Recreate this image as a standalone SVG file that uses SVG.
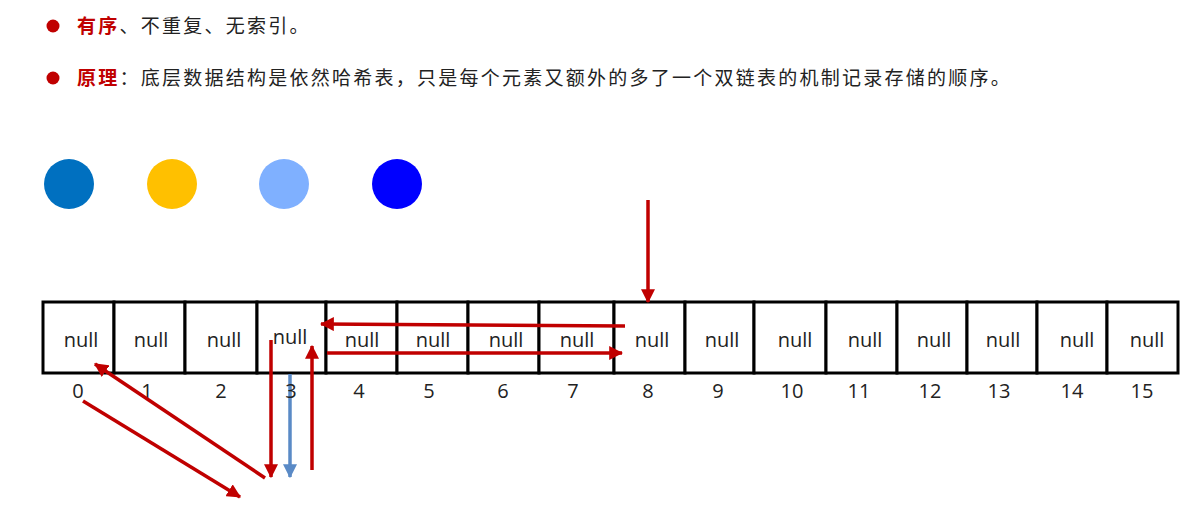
<svg xmlns="http://www.w3.org/2000/svg" width="1187" height="515" viewBox="0 0 1187 515">
<style>
.cn{font-family:"Noto Sans CJK SC","Noto Sans",sans-serif;font-size:19px;letter-spacing:2.25px;fill:#222}
.red{fill:#C00000;font-weight:bold}
.cell{fill:#fff;stroke:#000;stroke-width:3}
.nul{font-family:"Open Sans","Noto Sans",sans-serif;font-size:20px;fill:#222;text-anchor:middle}
.idx{font-family:"Open Sans","Noto Sans",sans-serif;font-size:20px;fill:#222;text-anchor:middle}
.ar{fill:none;stroke:#C00000;stroke-width:3.5}
.ab{fill:none;stroke:#5A8AC6;stroke-width:3.5}
</style>
<defs>
<marker id="mr" markerUnits="userSpaceOnUse" markerWidth="14" markerHeight="14" viewBox="0 0 12 12" refX="11" refY="6" orient="auto">
<path d="M0,0 L12,6 L0,12 Z" fill="#C00000"/>
</marker>
<marker id="mb" markerUnits="userSpaceOnUse" markerWidth="14" markerHeight="14" viewBox="0 0 12 12" refX="11" refY="6" orient="auto">
<path d="M0,0 L12,6 L0,12 Z" fill="#5A8AC6"/>
</marker>
</defs>
<rect width="1187" height="515" fill="#fff"/>
<g id="header">
<circle cx="53" cy="26" r="6.5" fill="#C00000"/>
<text class="cn" x="77" y="33"><tspan class="red">有序</tspan>、不重复、无索引。</text>
<circle cx="53" cy="78" r="6.5" fill="#C00000"/>
<text class="cn" x="77" y="85"><tspan class="red">原理</tspan>：底层数据结构是依然哈希表，只是每个元素又额外的多了一个双链表的机制记录存储的顺序。</text>
</g>
<g id="circles">
<circle cx="69" cy="184" r="25" fill="#0070C0"/>
<circle cx="172" cy="184" r="25" fill="#FFC000"/>
<circle cx="284" cy="184" r="25" fill="#7FB0FF"/>
<circle cx="397" cy="184" r="25" fill="#0000FF"/>
</g>
<g id="array">
<g id="cell0"><rect class="cell" x="43" y="302" width="71" height="71"/><text class="nul" x="81" y="347">null</text><text class="idx" x="78" y="398">0</text></g>
<g id="cell1"><rect class="cell" x="114" y="302" width="71" height="71"/><text class="nul" x="151" y="347">null</text><text class="idx" x="147" y="398">1</text></g>
<g id="cell2"><rect class="cell" x="185" y="302" width="72" height="71"/><text class="nul" x="224" y="347">null</text><text class="idx" x="221" y="398">2</text></g>
<g id="cell3"><rect class="cell" x="257" y="302" width="69" height="71"/><text class="nul" x="290" y="344">null</text></g>
<g id="cell4"><rect class="cell" x="326" y="302" width="71" height="71"/><text class="nul" x="362" y="347">null</text><text class="idx" x="359" y="398">4</text></g>
<g id="cell5"><rect class="cell" x="397" y="302" width="71" height="71"/><text class="nul" x="433" y="347">null</text><text class="idx" x="429" y="398">5</text></g>
<g id="cell6"><rect class="cell" x="468" y="302" width="71" height="71"/><text class="nul" x="506" y="347">null</text><text class="idx" x="503" y="398">6</text></g>
<g id="cell7"><rect class="cell" x="539" y="302" width="75" height="71"/><text class="nul" x="577" y="347">null</text><text class="idx" x="573" y="398">7</text></g>
<g id="cell8"><rect class="cell" x="614" y="302" width="71" height="71"/><text class="nul" x="652" y="347">null</text><text class="idx" x="648" y="398">8</text></g>
<g id="cell9"><rect class="cell" x="685" y="302" width="69" height="71"/><text class="nul" x="722" y="347">null</text><text class="idx" x="718" y="398">9</text></g>
<g id="cell10"><rect class="cell" x="754" y="302" width="72" height="71"/><text class="nul" x="795" y="347">null</text><text class="idx" x="792" y="398">10</text></g>
<g id="cell11"><rect class="cell" x="826" y="302" width="71" height="71"/><text class="nul" x="865" y="347">null</text><text class="idx" x="859" y="398">11</text></g>
<g id="cell12"><rect class="cell" x="897" y="302" width="70" height="71"/><text class="nul" x="934" y="347">null</text><text class="idx" x="930" y="398">12</text></g>
<g id="cell13"><rect class="cell" x="967" y="302" width="70" height="71"/><text class="nul" x="1003" y="347">null</text><text class="idx" x="999" y="398">13</text></g>
<g id="cell14"><rect class="cell" x="1037" y="302" width="70" height="71"/><text class="nul" x="1077" y="347">null</text><text class="idx" x="1072" y="398">14</text></g>
<g id="cell15"><rect class="cell" x="1107" y="302" width="71" height="71"/><text class="nul" x="1147" y="347">null</text><text class="idx" x="1142" y="398">15</text></g>
</g>
<g id="connectors">
<line class="ar" x1="648" y1="200" x2="648" y2="302" marker-end="url(#mr)"/>
<line class="ar" x1="625" y1="326" x2="321" y2="324" marker-end="url(#mr)"/>
<line class="ar" x1="327" y1="353" x2="622" y2="353" marker-end="url(#mr)"/>
<line class="ar" x1="271" y1="340" x2="271" y2="477" marker-end="url(#mr)"/>
<line class="ab" x1="290" y1="374" x2="290" y2="477" marker-end="url(#mb)"/>
<line class="ar" x1="312" y1="470" x2="312" y2="346" marker-end="url(#mr)"/>
<line class="ar" x1="265" y1="478" x2="95" y2="364" marker-end="url(#mr)"/>
<line class="ar" x1="83" y1="401" x2="240" y2="497" marker-end="url(#mr)"/>
</g>
<text class="idx" x="291" y="398">3</text>
</svg>
